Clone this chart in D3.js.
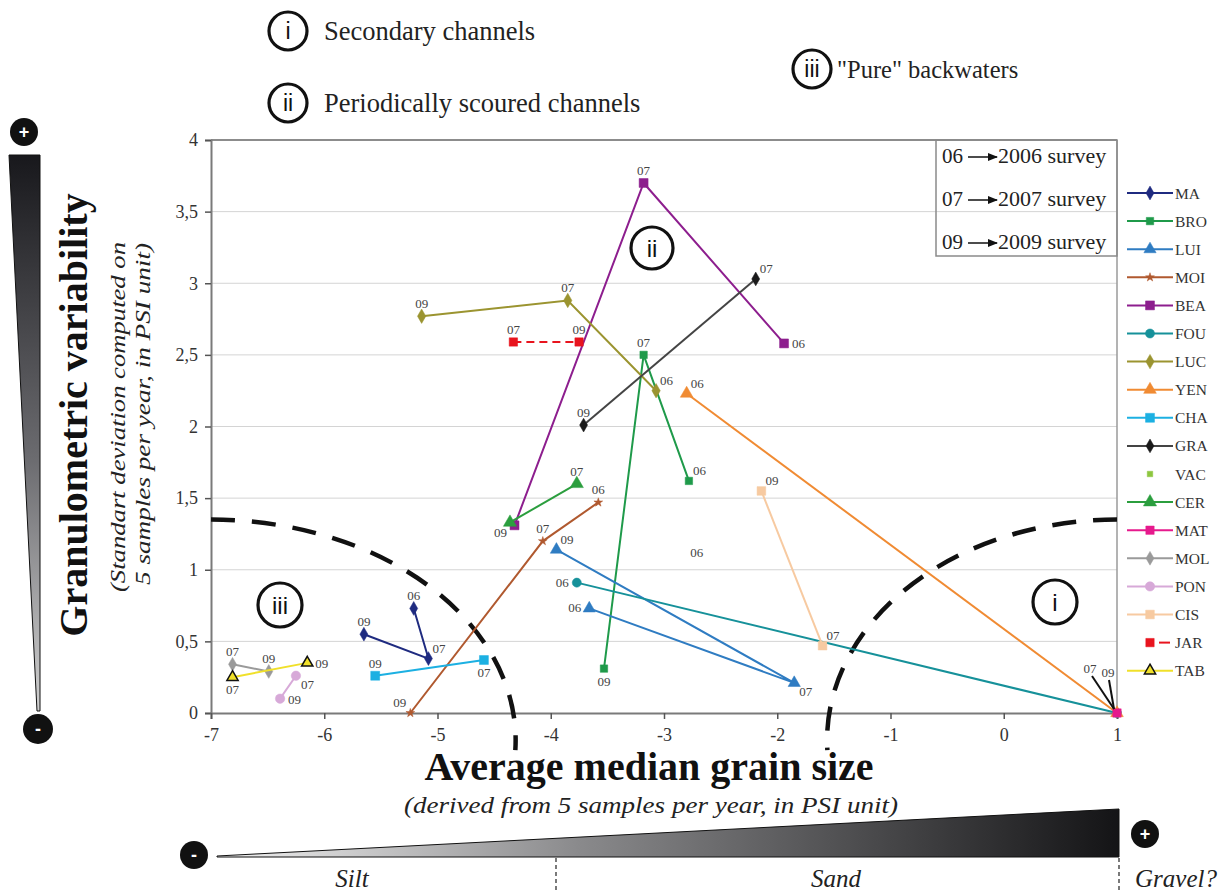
<!DOCTYPE html>
<html>
<head>
<meta charset="utf-8">
<script src="https://cdn.jsdelivr.net/npm/d3@7"></script>
<style>
  body { margin: 0; background: #fff; }
  svg { display: block; font-family: "Liberation Serif", "Times New Roman", serif; }
</style>
</head>
<body>
<svg id="chart" width="1228" height="892"></svg>
<script>
// sites, in legend order
const siteNames = ['MA', 'BRO', 'LUI', 'MOI', 'BEA', 'FOU', 'LUC', 'YEN', 'CHA', 'GRA', 'VAC', 'CER', 'MAT', 'MOL', 'PON', 'CIS', 'JAR', 'TAB'];
const surveyYears = ['06', '07', '09'];
const surveyNames = ['2006 survey', '2007 survey', '2009 survey'];

// average median grain size (PSI) per survey, null = no sample
const grain06 = [-5.21, -2.78, -3.66, -3.58, -1.94, -3.77, -3.07, -2.80, null, null, -2.71, null, null, null, null, null, null, null];
const grain07 = [-5.08, -3.18, -1.85, -4.07, -3.18, 1.00, -3.85, null, -4.59, -2.19, null, -3.77, null, -6.81, -6.25, -1.60, -4.33, -6.81];
const grain09 = [-5.65, -3.53, -3.95, -5.24, -4.32, null, -5.14, 1.00, -5.55, -3.71, null, -4.36, 1.00, -6.49, -6.39, -2.14, -3.75, -6.15];

// standard deviation (granulometric variability) per survey
const sd06 = [0.73, 1.62, 0.73, 1.47, 2.58, 0.91, 2.25, 2.23, null, null, 1.03, null, null, null, null, null, null, null];
const sd07 = [0.38, 2.50, 0.21, 1.20, 3.70, 0.00, 2.88, null, 0.37, 3.03, null, 1.60, null, 0.34, 0.26, 0.47, 2.59, 0.25];
const sd09 = [0.55, 0.31, 1.14, 0.00, 1.31, null, 2.77, 0.00, 0.26, 2.01, null, 1.33, 0.00, 0.29, 0.10, 1.55, 2.59, 0.35];

const xTicks = [-7, -6, -5, -4, -3, -2, -1, 0, 1];
const yTicks = [0, 0.5, 1, 1.5, 2, 2.5, 3, 3.5, 4];

// look of each series
const siteStyle = {
  MA:  { color: '#1f2b80', symbol: d3.symbolDiamond, size: 55 },
  BRO: { color: '#1f9a4a', symbol: d3.symbolSquare, size: 55 },
  LUI: { color: '#2f7cc2', symbol: d3.symbolTriangle, size: 65 },
  MOI: { color: '#b0592f', symbol: d3.symbolStar, size: 24 },
  BEA: { color: '#8d1e8e', symbol: d3.symbolSquare, size: 80 },
  FOU: { color: '#16919a', symbol: d3.symbolCircle, size: 65 },
  LUC: { color: '#9b9430', symbol: d3.symbolDiamond, size: 60 },
  YEN: { color: '#f08b33', symbol: d3.symbolTriangle, size: 70 },
  CHA: { color: '#1cb0e2', symbol: d3.symbolSquare, size: 80 },
  GRA: { color: '#1a1a1a', line: '#444', symbol: d3.symbolDiamond, size: 55 },
  VAC: { color: '#8dc63f', symbol: d3.symbolSquare, size: 30, noLine: true, hidden: true },
  CER: { color: '#2b9e3e', symbol: d3.symbolTriangle, size: 75 },
  MAT: { color: '#e61a8d', symbol: d3.symbolSquare, size: 70 },
  MOL: { color: '#9a9a9a', symbol: d3.symbolDiamond, size: 55 },
  PON: { color: '#d7a9d8', symbol: d3.symbolCircle, size: 70 },
  CIS: { color: '#f7caa1', symbol: d3.symbolSquare, size: 75 },
  JAR: { color: '#e8141e', symbol: d3.symbolSquare, size: 70, dash: '8 5' },
  TAB: { color: '#f0e02a', symbol: d3.symbolTriangle, size: 55, markerFill: '#f0e02a', markerStroke: '#111' }
};

// where each year label sits next to its point
const labelPlace = {
  'MA-06': 't', 'MA-07': 'tr', 'MA-09': 't',
  'BRO-06': 'tr', 'BRO-07': 't', 'BRO-09': 'b',
  'LUI-06': 'l', 'LUI-07': 'br', 'LUI-09': 'tr',
  'MOI-06': 't', 'MOI-07': 't', 'MOI-09': 'tl',
  'BEA-06': 'r', 'BEA-07': 't', 'BEA-09': 'none',
  'FOU-06': 'l', 'FOU-07': 'lead07',
  'LUC-06': 'tr', 'LUC-07': 't', 'LUC-09': 't',
  'YEN-06': 'tr', 'YEN-09': 'lead09',
  'CHA-07': 'b', 'CHA-09': 't',
  'GRA-07': 'tr', 'GRA-09': 't',
  'VAC-06': 't',
  'CER-07': 't', 'CER-09': 'bl',
  'MAT-09': 'none',
  'MOL-07': 't', 'MOL-09': 't',
  'PON-07': 'br', 'PON-09': 'r',
  'CIS-07': 'tr', 'CIS-09': 'tr',
  'JAR-07': 't', 'JAR-09': 't',
  'TAB-07': 'b', 'TAB-09': 'r'
};
const placeOffset = {
  t: [0, -8, 'middle'], b: [0, 17, 'middle'], l: [-8, 4, 'end'], r: [8, 5, 'start'],
  tr: [4, -6, 'start'], tl: [-4, -6, 'end'], br: [5, 13, 'start'], bl: [-3, 15, 'end'],
  lead07: [-27, -40, 'middle'], lead09: [-9, -36, 'middle']
};

const svg = d3.select('#chart');
const x = d3.scaleLinear().domain([-7, 1]).range([211, 1117]);
const y = d3.scaleLinear().domain([0, 4]).range([713, 140]);
const comma = d3.formatLocale({ decimal: ',', thousands: ' ', grouping: [3], currency: ['', ''] }).format('~g');

const defs = svg.append('defs');
const gradV = defs.append('linearGradient').attr('id', 'wedgeV').attr('x1', 0).attr('y1', 0).attr('x2', 0).attr('y2', 1);
gradV.append('stop').attr('offset', '0%').attr('stop-color', '#18181c');
gradV.append('stop').attr('offset', '55%').attr('stop-color', '#6c6c70');
gradV.append('stop').attr('offset', '100%').attr('stop-color', '#d0d0d0');
const gradH = defs.append('linearGradient').attr('id', 'wedgeH').attr('x1', 0).attr('y1', 0).attr('x2', 1).attr('y2', 0);
gradH.append('stop').attr('offset', '0%').attr('stop-color', '#f2f2f2');
gradH.append('stop').attr('offset', '40%').attr('stop-color', '#8a8a8c');
gradH.append('stop').attr('offset', '100%').attr('stop-color', '#141416');
defs.append('marker').attr('id', 'arrow').attr('viewBox', '0 0 10 10').attr('refX', 9).attr('refY', 5)
  .attr('markerWidth', 7).attr('markerHeight', 7).attr('orient', 'auto')
  .append('path').attr('d', 'M0,1 L10,5 L0,9 Z').attr('fill', '#111');

// grid
svg.append('g').selectAll('line').data(yTicks.filter(d => d > 0)).join('line')
  .attr('x1', x(-7)).attr('x2', x(1)).attr('y1', d => y(d)).attr('y2', d => y(d))
  .attr('stroke', d => d === 4 ? '#8c8c8c' : '#d4d4d4').attr('stroke-width', d => d === 4 ? 2 : 1);
svg.append('line').attr('x1', x(1)).attr('x2', x(1)).attr('y1', y(4)).attr('y2', y(0))
  .attr('stroke', '#9a9a9a').attr('stroke-width', 1.5);

// axes
const yAxis = svg.append('g').attr('transform', `translate(${x(-7)},0)`)
  .call(d3.axisLeft(y).tickValues(yTicks).tickFormat(comma).tickSize(6).tickPadding(7));
const xAxis = svg.append('g').attr('transform', `translate(0,${y(0)})`)
  .call(d3.axisBottom(x).tickValues(xTicks).tickFormat(d => String(d)).tickSize(6).tickPadding(6));
[yAxis, xAxis].forEach(a => {
  a.select('.domain').attr('stroke', '#7a7a7a').attr('stroke-width', 2);
  a.selectAll('.tick line').attr('stroke', '#555').attr('stroke-width', 1.5);
  a.selectAll('.tick text').attr('fill', '#333').attr('font-family', '"Liberation Serif", serif').attr('font-size', 18);
});
xAxis.selectAll('.tick text').attr('dy', '0.9em');

// dashed boundaries of the three groups (in data units)
const boundaryArcs = [
  { cx: -7, cy: -0.19, rx: 2.69, ry: 1.54, sweep: 1, side: 1 },
  { cx: 1, cy: -0.19, rx: 2.56, ry: 1.54, sweep: 0, side: -1 }
];
boundaryArcs.forEach(a => {
  const cx = x(a.cx), cy = y(a.cy);
  const rx = Math.abs(x(a.cx + a.rx) - cx), ry = Math.abs(y(a.cy + a.ry) - cy);
  const endY = cy + 10;
  const endX = cx + a.side * rx * Math.sqrt(1 - (10 / ry) ** 2);
  svg.append('path')
    .attr('d', `M${cx},${cy - ry} A${rx},${ry} 0 0 ${a.sweep} ${endX},${endY}`)
    .attr('fill', 'none').attr('stroke', '#111').attr('stroke-width', 4.5)
    .attr('stroke-dasharray', '24 17');
});

// series
const grains = [grain06, grain07, grain09];
const sds = [sd06, sd07, sd09];
const series = siteNames.map((name, i) => ({
  name,
  pts: surveyYears.map((yr, k) => ({ site: name, year: yr, g: grains[k][i], s: sds[k][i] }))
    .filter(p => p.g !== null)
}));

const line = d3.line().x(d => x(d.g)).y(d => y(d.s));
const plot = svg.append('g');
series.forEach(se => {
  const st = siteStyle[se.name];
  if (!st.noLine && se.pts.length > 1) {
    plot.append('path').attr('d', line(se.pts)).attr('fill', 'none')
      .attr('stroke', st.line || st.color).attr('stroke-width', 2)
      .attr('stroke-dasharray', st.dash || null);
  }
  if (!st.hidden) {
    plot.selectAll(null).data(se.pts).join('path')
      .attr('transform', d => `translate(${x(d.g)},${y(d.s)})`)
      .attr('d', d3.symbol().type(st.symbol).size(st.size))
      .attr('fill', st.markerFill || st.color)
      .attr('stroke', st.markerStroke || st.color).attr('stroke-width', st.markerStroke ? 1.5 : 0.5);
  }
});

// year labels
const labels = svg.append('g').attr('font-size', 13).attr('fill', '#444');
series.forEach(se => se.pts.forEach(p => {
  const place = labelPlace[`${p.site}-${p.year}`] || 't';
  if (place === 'none') return;
  const [dx, dy, anchor] = placeOffset[place];
  const px = x(p.g), py = y(p.s);
  labels.append('text').attr('x', px + dx).attr('y', py + dy).attr('text-anchor', anchor).text(p.year);
  if (place.startsWith('lead')) {
    labels.append('line').attr('x1', px + dx + (place === 'lead07' ? 2 : 1)).attr('y1', py + dy + 3)
      .attr('x2', px - 3).attr('y2', py - 4).attr('stroke', '#111').attr('stroke-width', 2);
  }
}));

// circled group numbers
function badge(cx, cy, r, txt, fs) {
  const g = svg.append('g');
  g.append('circle').attr('cx', cx).attr('cy', cy).attr('r', r)
    .attr('fill', '#fff').attr('stroke', '#111').attr('stroke-width', 3.2);
  g.append('text').attr('x', cx).attr('y', cy + fs * 0.36).attr('text-anchor', 'middle')
    .attr('font-family', '"Liberation Sans", Arial, sans-serif').attr('font-size', fs).attr('fill', '#111').text(txt);
}
badge(652, 248, 21, 'ii', 24);
badge(280, 605, 22, 'iii', 24);
badge(1055, 602, 22, 'i', 24);
badge(288, 31, 19, 'i', 23);
badge(288, 103, 19, 'ii', 23);
badge(812, 69, 19, 'iii', 23);
const heads = svg.append('g').attr('fill', '#222');
heads.append('text').attr('x', 324).attr('y', 40).attr('font-size', 26.5).text('Secondary channels');
heads.append('text').attr('x', 324).attr('y', 112).attr('font-size', 26.5).text('Periodically scoured channels');
heads.append('text').attr('x', 837).attr('y', 78).attr('font-size', 24.5).text('"Pure" backwaters');

// survey key
svg.append('rect').attr('x', 936).attr('y', 140).attr('width', 181).attr('height', 116)
  .attr('fill', 'none').attr('stroke', '#8a8a8a').attr('stroke-width', 1.5);
surveyYears.forEach((yr, k) => {
  const by = 163 + k * 43;
  svg.append('text').attr('x', 942).attr('y', by).attr('font-size', 21).attr('fill', '#222').text(yr);
  svg.append('line').attr('x1', 968).attr('x2', 997).attr('y1', by - 6).attr('y2', by - 6)
    .attr('stroke', '#111').attr('stroke-width', 1.5).attr('marker-end', 'url(#arrow)');
  svg.append('text').attr('x', 998).attr('y', by).attr('font-size', 22).attr('fill', '#222').text(surveyNames[k]);
});

// site legend
const legend = svg.append('g');
siteNames.forEach((name, i) => {
  const st = siteStyle[name];
  const ly = 193 + i * 28.1;
  const row = legend.append('g').attr('transform', `translate(0,${ly})`);
  if (name === 'JAR') {
    row.append('line').attr('x1', 1159).attr('x2', 1170).attr('y1', 0).attr('y2', 0)
      .attr('stroke', st.color).attr('stroke-width', 2);
  } else if (!st.noLine) {
    row.append('line').attr('x1', 1127).attr('x2', 1173).attr('y1', 0).attr('y2', 0)
      .attr('stroke', st.line || st.color).attr('stroke-width', 2);
  }
  row.append('path').attr('transform', 'translate(1150,0)')
    .attr('d', d3.symbol().type(st.symbol).size(st.size))
    .attr('fill', st.markerFill || st.color)
    .attr('stroke', st.markerStroke || st.color).attr('stroke-width', st.markerStroke ? 1.5 : 0.5);
  row.append('text').attr('x', 1175).attr('y', 5.5).attr('font-size', 15.5).attr('fill', '#333').text(name);
});

// y axis titles and wedge
svg.append('text').attr('transform', 'translate(87,415) rotate(-90)').attr('text-anchor', 'middle')
  .attr('font-size', 40).attr('font-weight', 'bold').attr('fill', '#111').text('Granulometric variability');
svg.append('text').attr('transform', 'translate(125,417) rotate(-90)').attr('text-anchor', 'middle')
  .attr('font-size', 22).attr('font-style', 'italic').attr('fill', '#222')
  .attr('textLength', 350).attr('lengthAdjust', 'spacingAndGlyphs').text('(Standart deviation computed on');
svg.append('text').attr('transform', 'translate(150,414) rotate(-90)').attr('text-anchor', 'middle')
  .attr('font-size', 22).attr('font-style', 'italic').attr('fill', '#222')
  .attr('textLength', 342).attr('lengthAdjust', 'spacingAndGlyphs').text('5 samples per year, in PSI unit)');
svg.append('path').attr('d', 'M9,155 L40,155 L40,711 L37,711 Z')
  .attr('fill', 'url(#wedgeV)').attr('stroke', '#111').attr('stroke-width', 1);

function pm(cx, cy, r, sign) {
  svg.append('circle').attr('cx', cx).attr('cy', cy).attr('r', r).attr('fill', '#111');
  svg.append('text').attr('x', cx).attr('y', cy + 6).attr('text-anchor', 'middle')
    .attr('font-family', '"Liberation Sans", sans-serif').attr('font-weight', 'bold')
    .attr('font-size', 18).attr('fill', '#fff').text(sign);
}
pm(24, 132, 14, '+');
pm(38, 729, 15, '-');
pm(194, 855, 14, '-');
pm(1145, 834, 14, '+');

// x axis titles and wedge
svg.append('text').attr('x', 649).attr('y', 780).attr('text-anchor', 'middle')
  .attr('font-size', 40).attr('font-weight', 'bold').attr('fill', '#111').text('Average median grain size');
svg.append('text').attr('x', 651).attr('y', 813).attr('text-anchor', 'middle')
  .attr('font-size', 24).attr('font-style', 'italic').attr('fill', '#222')
  .attr('textLength', 494).attr('lengthAdjust', 'spacingAndGlyphs').text('(derived from 5 samples per year, in PSI unit)');
svg.append('path').attr('d', 'M217,856 L1119,809 L1119,857 L217,857 Z')
  .attr('fill', 'url(#wedgeH)').attr('stroke', '#111').attr('stroke-width', 1);
[556, 1119].forEach(dx => svg.append('line').attr('x1', dx).attr('x2', dx).attr('y1', 858).attr('y2', 892)
  .attr('stroke', '#222').attr('stroke-width', 1.2).attr('stroke-dasharray', '4 3'));
const classes = svg.append('g').attr('font-size', 25).attr('font-style', 'italic').attr('fill', '#222');
classes.append('text').attr('x', 352).attr('y', 887).attr('text-anchor', 'middle').text('Silt');
classes.append('text').attr('x', 836).attr('y', 887).attr('text-anchor', 'middle').text('Sand');
classes.append('text').attr('x', 1176).attr('y', 887).attr('text-anchor', 'middle').text('Gravel?');
</script>
</body>
</html>
